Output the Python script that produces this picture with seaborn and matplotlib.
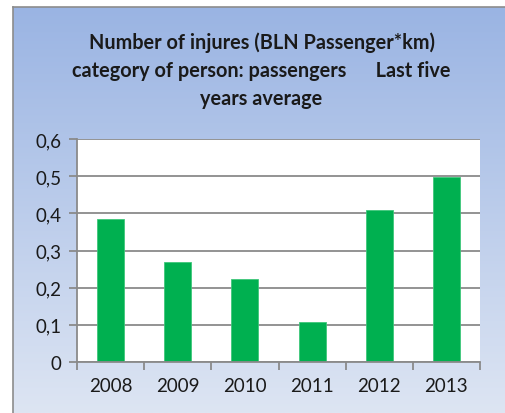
import numpy as np
import matplotlib
matplotlib.use("Agg")
import matplotlib.pyplot as plt
import seaborn as sns
from matplotlib.ticker import FixedLocator, FixedFormatter

years = ["2008", "2009", "2010", "2011", "2012", "2013"]
values = [0.384, 0.269, 0.223, 0.107, 0.409, 0.499]
ytick_vals = [0, 0.1, 0.2, 0.3, 0.4, 0.5, 0.6]
ytick_labels = ["0", "0,1", "0,2", "0,3", "0,4", "0,5", "0,6"]
title = "Number of injures (BLN Passenger*km)\ncategory of person: passengers      Last five\nyears average"

sns.set_theme(style="white")
plt.rcParams['font.family'] = ['Lato', 'DejaVu Sans']

W, H = 505, 414
fig = plt.figure(figsize=(W / 100, H / 100), dpi=100)
fig.patch.set_facecolor("white")

# gradient background of the chart area
x0, y1 = 13 / W, 1 - 8 / H
bg = fig.add_axes([x0, 0, 1 - x0, y1])
grad = np.linspace(0, 1, 256).reshape(-1, 1)
top = np.array([0x9A, 0xB4, 0xE3]) / 255
bot = np.array([0xDD, 0xE5, 0xF3]) / 255
img = top[None, None, :] * (1 - grad[:, :, None]) + bot[None, None, :] * grad[:, :, None]
bg.imshow(img, aspect="auto", extent=[0, 1, 0, 1])
bg.set_xticks([]); bg.set_yticks([])
for s in ["right", "bottom"]:
    bg.spines[s].set_visible(False)
for s in ["left", "top"]:
    bg.spines[s].set_color("#8c8c8c")
    bg.spines[s].set_linewidth(1.2)
bg.set_zorder(0)

ax = fig.add_axes([77 / W, 1 - 363 / H, (480 - 77) / W, (363 - 140) / H])
ax.set_zorder(1)
ax.set_facecolor("white")
sns.barplot(x=years, y=values, color="#00b050", width=0.4, ax=ax,
            edgecolor="#3fc77a", linewidth=0.6, saturation=1)
ax.set_xlim(-0.5, 5.5)
ax.set_ylim(0, 0.6)
ax.yaxis.set_major_locator(FixedLocator(ytick_vals))
ax.yaxis.set_major_formatter(FixedFormatter(ytick_labels))
ax.yaxis.grid(True, color="#8a8a8a", linewidth=1.3)
ax.set_axisbelow(True)
for s in ["top", "right"]:
    ax.spines[s].set_visible(False)
for s in ["left", "bottom"]:
    ax.spines[s].set_color("#8a8a8a")
    ax.spines[s].set_linewidth(1.3)
ax.tick_params(axis="y", which="major", length=6, width=1.3, color="#8a8a8a",
               direction="out", labelsize=13.5, pad=5, left=True)
ax.tick_params(axis="x", which="major", length=0, labelsize=13.5, pad=11)
ax.set_xticks(np.arange(-0.5, 6, 1), minor=True)
ax.tick_params(axis="x", which="minor", length=6, width=1.3, color="#8a8a8a",
               direction="out", bottom=True)
ax.set_xlabel(""); ax.set_ylabel("")
for lab in ax.get_xticklabels() + ax.get_yticklabels():
    lab.set_color("#1a1a1a")

fig.text(0.518, 1 - 32 / H, title, ha="center", va="top", fontsize=14.3,
         fontweight="bold", color="#1a1a1a", linespacing=1.5)

fig.savefig("out.png", dpi=100)
